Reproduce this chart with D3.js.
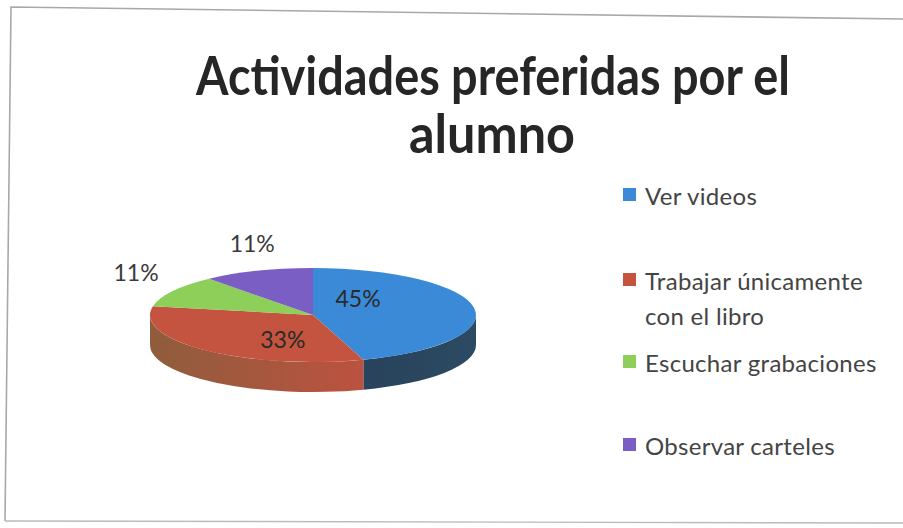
<!DOCTYPE html>
<html>
<head>
<meta charset="utf-8">
<script src="https://cdn.jsdelivr.net/npm/d3@7/dist/d3.min.js"></script>
<style>
  html, body { margin: 0; padding: 0; background: #ffffff; }
  svg { display: block; }
</style>
</head>
<body>
<svg id="chart" width="903" height="528"></svg>
<script>
// ---- data ----
const titleLines = ["Actividades preferidas por el", "alumno"];
const categories = ["Ver videos", "Trabajar únicamente con el libro", "Escuchar grabaciones", "Observar carteles"];
const legendLines = [["Ver videos"], ["Trabajar únicamente", "con el libro"], ["Escuchar grabaciones"], ["Observar carteles"]];
const values = [45, 33, 11, 11];
const labels = ["45%", "33%", "11%", "11%"];
const topColors = ["#3b8ad8", "#c4543f", "#8dcf59", "#7a5ec4"];
const sideColors = ["#2a4760", "#a8553c", "#6f9f45", "#5a4592"];

// ---- layout ----
const W = 903, H = 528;
const svg = d3.select("#chart");
const font = "Lato, 'Open Sans', sans-serif";

svg.append("rect").attr("width", W).attr("height", H).attr("fill", "#ffffff");

// frame (photographed, slightly skewed)
svg.append("path")
  .attr("d", "M5,521 L11,7 L903,19")
  .attr("fill", "none").attr("stroke", "#a7a9a9").attr("stroke-width", 1.6);
svg.append("path")
  .attr("d", "M5,521 L903,523")
  .attr("fill", "none").attr("stroke", "#b9bcbc").attr("stroke-width", 1.4);

// title
const titleG = svg.append("g");
titleG.append("text")
  .attr("x", 493).attr("y", 95)
  .attr("text-anchor", "middle")
  .attr("font-family", font).attr("font-weight", 700).attr("font-size", 53)
  .attr("fill", "#262626")
  .attr("textLength", 594).attr("lengthAdjust", "spacingAndGlyphs")
  .text(titleLines[0]);
titleG.append("text")
  .attr("x", 492).attr("y", 153)
  .attr("text-anchor", "middle")
  .attr("font-family", font).attr("font-weight", 700).attr("font-size", 53)
  .attr("fill", "#262626")
  .attr("textLength", 166).attr("lengthAdjust", "spacingAndGlyphs")
  .text(titleLines[1]);

// ---- 3D pie ----
const cx = 313, cy = 315, rx = 163, ry = 47, depth = 30;
const pie = d3.pie().sort(null).startAngle(0).endAngle(2 * Math.PI);
const arcs = pie(values);
const arc = d3.arc().innerRadius(0).outerRadius(rx);

const pt = (a, dy = 0) => [cx + rx * Math.sin(a), cy - ry * Math.cos(a) + dy];

const defs = svg.append("defs");
const pieG = svg.append("g");

// side walls (only front half visible: angles between PI/2 and 3PI/2)
arcs.forEach((d, i) => {
  const s = Math.max(d.startAngle, Math.PI / 2);
  const e = Math.min(d.endAngle, 3 * Math.PI / 2);
  if (e <= s) return;
  const p0 = pt(s), p1 = pt(e), p2 = pt(e, depth), p3 = pt(s, depth);
  const large = (e - s) > Math.PI ? 1 : 0;
  const path = `M${p0[0]},${p0[1]} A${rx},${ry} 0 ${large} 1 ${p1[0]},${p1[1]} L${p2[0]},${p2[1]} A${rx},${ry} 0 ${large} 0 ${p3[0]},${p3[1]} Z`;
  const gid = "sideGrad" + i;
  const grad = defs.append("linearGradient")
    .attr("id", gid).attr("gradientUnits", "userSpaceOnUse")
    .attr("x1", p3[0]).attr("y1", 0).attr("x2", p2[0]).attr("y2", 0);
  const c = d3.color(sideColors[i]);
  grad.append("stop").attr("offset", "0%").attr("stop-color", i === 1 ? "#bb5240" : c.brighter(0.1));
  grad.append("stop").attr("offset", "100%").attr("stop-color", i === 1 ? "#8f5d3c" : c.darker(0.15));
  pieG.append("path").attr("d", path).attr("fill", `url(#${gid})`);
});

// top faces
const topG = pieG.append("g")
  .attr("transform", `translate(${cx},${cy}) scale(1,${ry / rx})`);
topG.selectAll("path.slice")
  .data(arcs)
  .join("path")
  .attr("class", "slice")
  .attr("d", arc)
  .attr("fill", (d, i) => topColors[i]);

// labels
const inRx = rx * 0.28, inRy = ry * 0.96, outRx = rx * 1.1, outRy = ry * 1.4, labCy = cy - 9;
arcs.forEach((d, i) => {
  const a = (d.startAngle + d.endAngle) / 2;
  const inside = d.value > 20;
  let x, y, anchor = "middle";
  if (inside) {
    x = cx + inRx * Math.sin(a);
    y = labCy - inRy * Math.cos(a);
  } else {
    x = cx + outRx * Math.sin(a);
    y = labCy - outRy * Math.cos(a);
    anchor = Math.abs(Math.sin(a)) > 0.7 ? "end" : "middle";
  }
  svg.append("text")
    .attr("x", x).attr("y", y)
    .attr("dy", "0.35em")
    .attr("text-anchor", anchor)
    .attr("font-family", font).attr("font-size", 23)
    .attr("fill", inside ? "#2a2a2a" : "#3a3a3a")
    .text(labels[i]);
});

// ---- legend ----
const legendY = [205, 290, 372, 455];
const legendG = svg.append("g");
legendLines.forEach((lines, i) => {
  const base = legendY[i];
  legendG.append("rect")
    .attr("x", 623).attr("y", base - 17)
    .attr("width", 13).attr("height", 13)
    .attr("fill", topColors[i]);
  lines.forEach((ln, j) => {
    legendG.append("text")
      .attr("x", 645).attr("y", base + j * 35)
      .attr("font-family", font).attr("font-size", 24)
      .attr("letter-spacing", 0.3)
      .attr("fill", "#444444")
      .text(ln);
  });
});
</script>
</body>
</html>
